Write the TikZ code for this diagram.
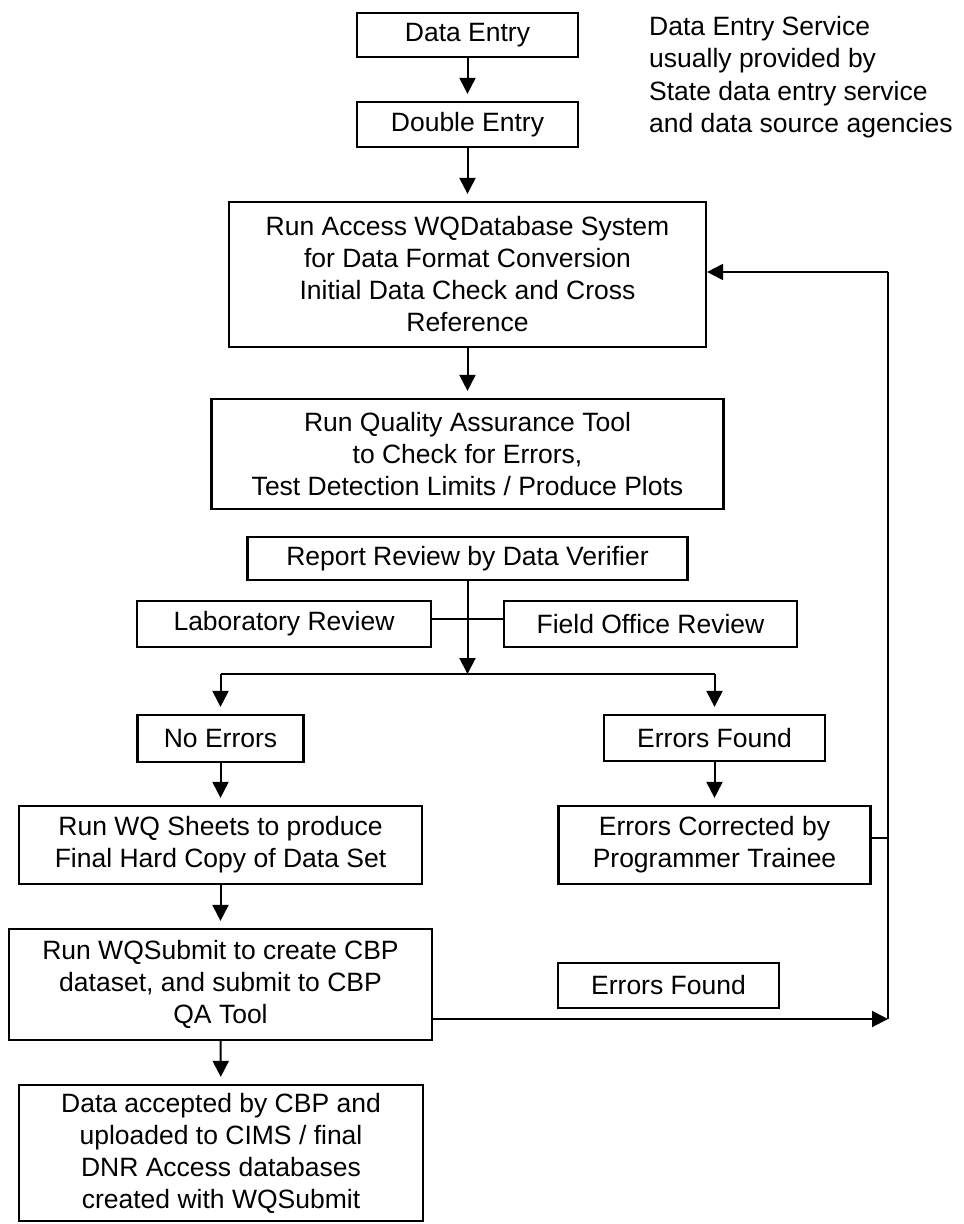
\documentclass[tikz,border=0pt]{standalone}
\usepackage{fontspec}
\setmainfont{Liberation Sans}
\usetikzlibrary{arrows.meta}

\begin{document}
\begin{tikzpicture}[x=1pt,y=-1pt,
  boite/.style={draw, line width=2.2pt, align=center, inner sep=0pt, font=\fontsize{26.5}{32}\selectfont},
  trait/.style={line width=2pt},
  fl/.style={line width=2pt, -{Triangle[length=16pt,width=16pt]}, shorten >=7pt}]
\useasboundingbox (0,0) rectangle (964,1224);
% colonne centrale
\node[boite, minimum width=221pt, minimum height=44pt] (saisie) at (467.5,35) {Data Entry};
\node[boite, minimum width=221pt, minimum height=45pt] (double) at (467.5,124.5) {Double Entry};
\node[boite, minimum width=477pt, minimum height=145pt] (access) at (467.5,274.5) {Run Access WQDatabase System\\for Data Format Conversion\\Initial Data Check and Cross\\Reference};
\node[boite, minimum width=512pt, minimum height=110pt] (qa) at (467.5,454) {Run Quality Assurance Tool\\to Check for Errors,\\Test Detection Limits / Produce Plots};
\node[boite, minimum width=440pt, minimum height=43pt] (rapport) at (467.5,558.5) {Report Review by Data Verifier};
\node[boite, minimum width=294pt, minimum height=46pt] (labo) at (284,624) {Laboratory Review};
\node[boite, minimum width=293pt, minimum height=46pt] (terrain) at (650.5,624) {Field Office Review};
\node[anchor=west, align=left, inner sep=0pt, font=\fontsize{26.5}{32.5}\selectfont] (note) at (649,77) {Data Entry Service\\usually provided by\\State data entry service\\and data source agencies};
% colonne gauche
\node[boite, minimum width=166pt, minimum height=47pt] (sanserr) at (220.5,738.5) {No Errors};
\node[boite, minimum width=403pt, minimum height=78pt] (feuilles) at (220.5,845) {Run WQ Sheets to produce\\Final Hard Copy of Data Set};
\node[boite, minimum width=423pt, minimum height=111pt] (soumis) at (220.5,984.5) {Run WQSubmit to create CBP\\dataset, and submit to CBP\\QA Tool};
\node[boite, minimum width=404pt, minimum height=136pt] (final) at (221,1153) {Data accepted by CBP and\\uploaded to CIMS / final\\DNR Access databases\\created with WQSubmit};
% colonne droite
\node[boite, minimum width=221pt, minimum height=46pt] (errtrouv) at (714.5,738) {Errors Found};
\node[boite, minimum width=312pt, minimum height=78pt] (corrige) at (714.5,845) {Errors Corrected by\\Programmer Trainee};
\node[boite, minimum width=221pt, minimum height=45pt] (errtrouvb) at (668.5,985.5) {Errors Found};
\coordinate (fourche) at (467.5,674);
\coordinate (liaison) at (467.5,619);
\coordinate (retour) at (888,1019);
\coordinate (haut) at (888,272);
\coordinate (corr) at (888,838);
% fleches
\begin{scope}
    \draw[fl] (saisie) -- (double);
    \draw[fl] (double) -- (access);
    \draw[fl] (access) -- (qa);
    \draw[trait] (labo.east |- liaison) -- (terrain.west |- liaison);
    \draw[fl, shorten >=0pt] (rapport) -- (fourche);
    \draw[trait] (fourche -| sanserr) -- (fourche -| errtrouv);
    \draw[fl] (fourche -| sanserr) -- (sanserr);
    \draw[fl] (fourche -| errtrouv) -- (errtrouv);
    \draw[fl] (sanserr) -- (feuilles);
    \draw[fl] (feuilles) -- (soumis);
    \draw[fl] (soumis) -- (final);
    \draw[fl] (errtrouv) -- (corrige);
    \draw[fl, shorten >=0pt] (soumis.east |- retour) -- (retour);
    \draw[trait] (retour) -- (haut);
    \draw[fl, shorten >=0pt] (haut) -- (access.east |- haut);
    \draw[trait] (corrige.east |- corr) -- (corr);
\end{scope}
\end{tikzpicture}
\end{document}
